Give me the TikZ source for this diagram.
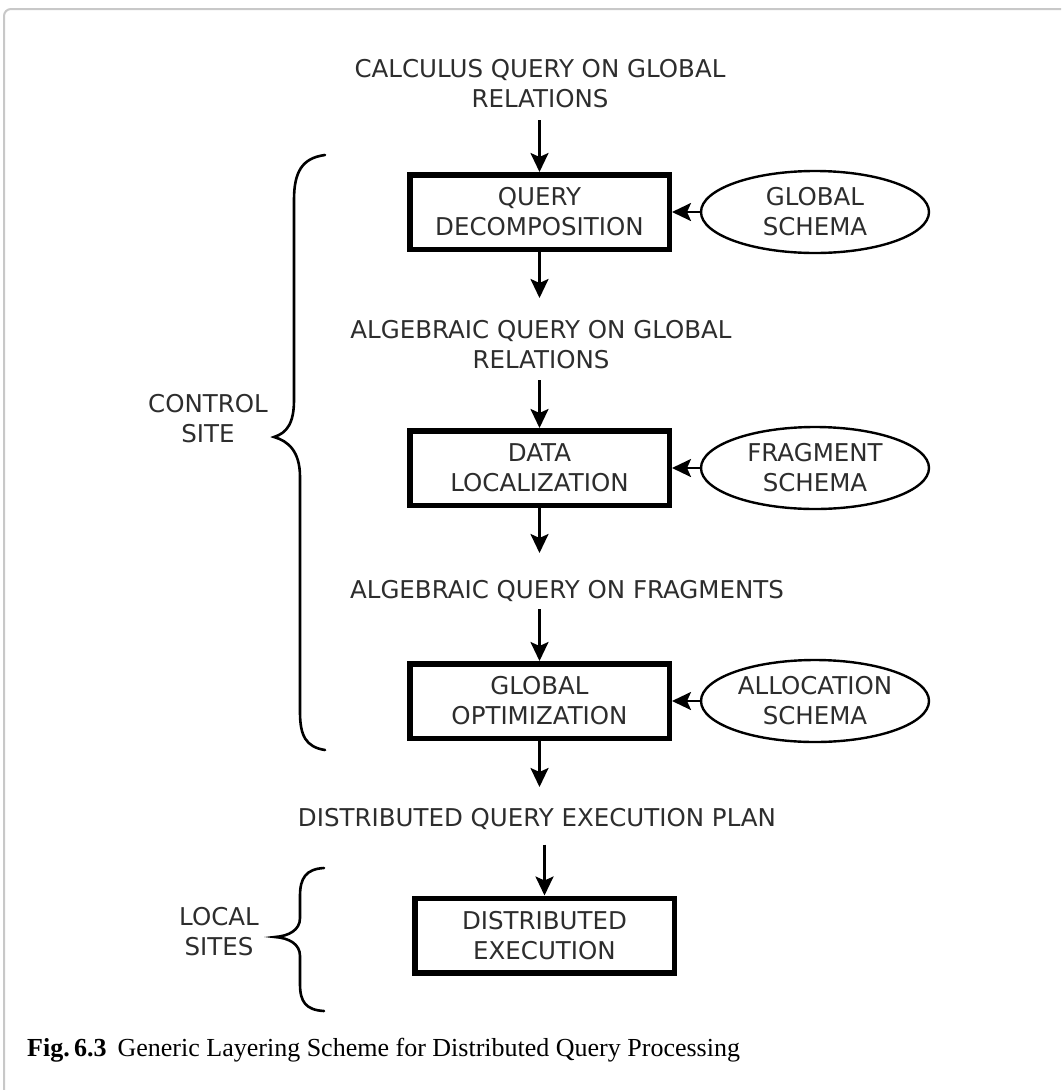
\documentclass[tikz,border=0pt]{standalone}
\usepackage{fontspec}
\setmainfont{DejaVu Sans}
\newfontfamily\capfont{Liberation Serif}
\usetikzlibrary{arrows.meta,shapes.geometric,calc}
\definecolor{txt}{RGB}{45,45,45}
\definecolor{framegray}{RGB}{200,200,200}
\begin{document}
\begin{tikzpicture}[x=1pt,y=-1pt,
  lbl/.style={font=\fontsize{24.5}{30}\selectfont, text=txt, align=center, inner sep=0pt},
  stage/.style={draw=black, line width=5.5pt, minimum width=259.5pt, minimum height=74.5pt,
    inner sep=0pt, align=center, text=txt, font=\fontsize{24.5}{30}\selectfont},
  schema/.style={ellipse, draw=black, line width=2.4pt, minimum width=228pt, minimum height=82pt,
    inner sep=0pt, align=center, text=txt, font=\fontsize{24.5}{30}\selectfont},
  flow/.style={draw=black, line width=2.6pt, -{Stealth[length=19pt,width=18pt,inset=4pt]}},
  bracestyle/.style={draw=black, line width=2.6pt, line cap=round}]
\useasboundingbox (0,0) rectangle (1061,1090);
\fill[white] (0,0) rectangle (1061,1090);
% page frame
\draw[framegray, line width=2pt, rounded corners=7pt] (1061,9) -- (4,9) -- (4,1090);

% texts between stages
\node[lbl] (t1) at (540,84) {CALCULUS QUERY ON GLOBAL\\RELATIONS};
\node[lbl] (t2) at (541,345) {ALGEBRAIC QUERY ON GLOBAL\\RELATIONS};
\node[lbl] (t3) at (567,591) {ALGEBRAIC QUERY ON FRAGMENTS};
\node[lbl] (t4) at (537,819) {DISTRIBUTED QUERY EXECUTION PLAN};

% stages
\node[stage] (b1) at (539.5,212) {QUERY\\DECOMPOSITION};
\node[stage] (b2) at (539.5,468) {DATA\\LOCALIZATION};
\node[stage] (b3) at (539.5,701) {GLOBAL\\OPTIMIZATION};
\node[stage] (b4) at (544.5,935.5) {DISTRIBUTED\\EXECUTION};

% schemas
\node[schema] (e1) at (815,212) {GLOBAL\\SCHEMA};
\node[schema] (e2) at (815,468) {FRAGMENT\\SCHEMA};
\node[schema] (e3) at (815,701) {ALLOCATION\\SCHEMA};

% side labels
\node[lbl] (cs) at (208,419) {CONTROL\\SITE};
\node[lbl] (ls) at (219,932) {LOCAL\\SITES};

% connectors
\draw[flow] ($(b1.north)+(0,-52)$) coordinate (a1) -- (b1.north);
\draw[flow] (b1.south) -- ($(b1.south)+(0,46)$) coordinate (a2);
\draw[flow] ($(b2.north)+(0,-48)$) coordinate (a3) -- (b2.north);
\draw[flow] (b2.south) -- ($(b2.south)+(0,45)$) coordinate (a4);
\draw[flow] ($(b3.north)+(0,-52)$) coordinate (a5) -- (b3.north);
\draw[flow] (b3.south) -- ($(b3.south)+(0,46)$) coordinate (a6);
\draw[flow] ($(b4.north)+(0,-51)$) coordinate (a7) -- (b4.north);
\draw[flow] (e1.west) -- (b1.east);
\draw[flow] (e2.west) -- (b2.east);
\draw[flow] (e3.west) -- (b3.east);

% braces
\draw[bracestyle] (325,155) .. controls (302,158) and (294,172) .. (294,200)
  -- (294,400) .. controls (294,423) and (287,433) .. (274,437)
  .. controls (288,441) and (300,451) .. (300,477)
  -- (300,712) .. controls (300,736) and (306,747) .. (325,750);
\draw[bracestyle] (324,868) .. controls (306,869) and (300,878) .. (300,896)
  -- (300,918) .. controls (300,930) and (289,936) .. (275,937)
  .. controls (289,938) and (300,944) .. (300,956)
  -- (300,984) .. controls (300,1002) and (306,1010) .. (324,1011);

% caption
\node[anchor=base west, inner sep=0pt] (cap) at (27,1056)
  {\capfont\fontsize{26}{30}\selectfont\textbf{Fig.\,6.3}\hspace{11pt}Generic Layering Scheme for Distributed Query Processing};
\end{tikzpicture}
\end{document}
